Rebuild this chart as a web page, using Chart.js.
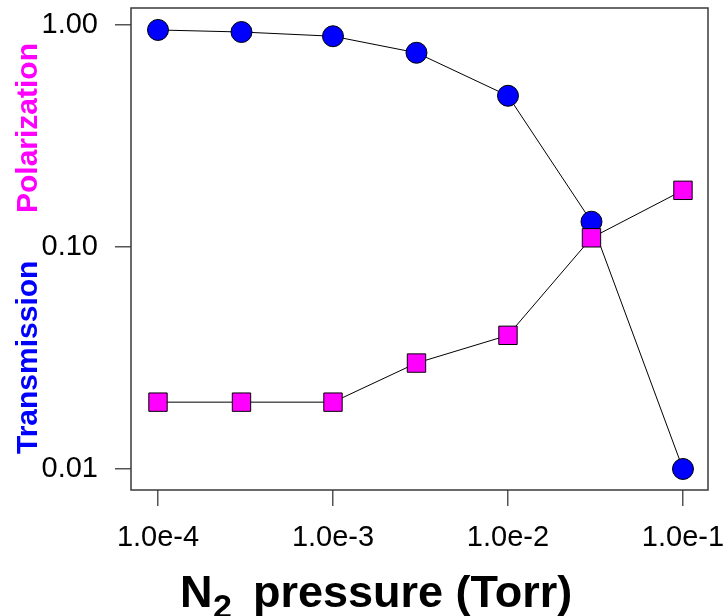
<!DOCTYPE html>
<html>
<head>
<meta charset="utf-8">
<script src="https://cdn.jsdelivr.net/npm/chart.js@4"></script>
<style>
  body { margin: 0; background: #fff; }
  #chart { display: block; }
</style>
</head>
<body>
<canvas id="chart" width="727" height="616"></canvas>
<script>
const pressure = [1e-4, 3e-4, 1e-3, 3e-3, 1e-2, 3e-2, 1e-1];
const transmission = [0.95, 0.93, 0.89, 0.75, 0.48, 0.13, 0.01];
const polarization = [0.02, 0.02, 0.02, 0.03, 0.04, 0.11, 0.18];

const xTickValues = [1e-4, 1e-3, 1e-2, 1e-1];
const xTickLabels = ["1.0e-4", "1.0e-3", "1.0e-2", "1.0e-1"];
const yTickValues = [0.01, 0.1, 1];
const yTickLabels = ["0.01", "0.10", "1.00"];

const FONT = "'Liberation Sans', Arial, Helvetica, sans-serif";
const noPadding = () => ({ left: 0, top: 0, right: 0, bottom: 0 });

function toPoints(ys) {
  return pressure.map((p, i) => ({ x: p, y: ys[i] }));
}

function tickLabel(values, labels) {
  return (v) => {
    const i = values.findIndex((t) => Math.abs(t - v) / t < 1e-6);
    return i >= 0 ? labels[i] : "";
  };
}

// frame round the plot plus the two axis titles
const framePlugin = {
  id: "frame",
  beforeDatasetsDraw(chart) {
    const a = chart.chartArea;
    const ctx = chart.ctx;
    ctx.save();
    ctx.strokeStyle = "#3a3a3a";
    ctx.lineWidth = 1.5;
    ctx.strokeRect(a.left, a.top, a.right - a.left, a.bottom - a.top);
    ctx.restore();
  },
  afterDraw(chart) {
    const ctx = chart.ctx;
    ctx.save();
    ctx.fillStyle = "#000";
    ctx.textBaseline = "alphabetic";
    ctx.textAlign = "left";

    // x title with subscript
    ctx.font = "bold 45px " + FONT;
    ctx.fillText("N", 180, 607);
    ctx.font = "bold 34px " + FONT;
    ctx.fillText("2", 213, 618);
    ctx.font = "bold 45px " + FONT;
    ctx.fillText("pressure (Torr)", 253, 607);

    // y title, two colours
    ctx.font = "bold 30px " + FONT;
    ctx.save();
    ctx.translate(37, 454);
    ctx.rotate(-Math.PI / 2);
    ctx.fillStyle = "#0000ff";
    ctx.fillText("Transmission", 0, 0);
    ctx.restore();
    ctx.save();
    ctx.translate(37, 213);
    ctx.rotate(-Math.PI / 2);
    ctx.fillStyle = "#ff00ff";
    ctx.fillText("Polarization", 0, 0);
    ctx.restore();

    ctx.restore();
  }
};

new Chart(document.getElementById("chart"), {
  type: "scatter",
  data: {
    datasets: [
      {
        label: "Transmission",
        data: toPoints(transmission),
        showLine: true,
        borderColor: "#000",
        borderWidth: 1,
        pointStyle: "circle",
        pointRadius: 10.5,
        pointBackgroundColor: "#0000ff",
        pointBorderColor: "#000",
        pointBorderWidth: 1,
        order: 2
      },
      {
        label: "Polarization",
        data: toPoints(polarization),
        showLine: true,
        borderColor: "#000",
        borderWidth: 1,
        pointStyle: "rect",
        pointRadius: 13,
        pointBackgroundColor: "#ff00ff",
        pointBorderColor: "#000",
        pointBorderWidth: 1,
        order: 1
      }
    ]
  },
  options: {
    responsive: false,
    animation: false,
    devicePixelRatio: 1,
    layout: { autoPadding: false, padding: { top: 8, right: 19, left: 0, bottom: 0 } },
    plugins: {
      legend: { display: false },
      tooltip: { enabled: false }
    },
    scales: {
      x: {
        type: "logarithmic",
        bounds: "data",
        min: 7.01e-5,
        max: 0.139,
        border: { display: false },
        grid: { drawOnChartArea: false, drawTicks: true, tickLength: 16, color: "#555", lineWidth: 1.5 },
        ticks: {
          padding: 15,
          color: "#000",
          font: { family: FONT, size: 29 },
          maxRotation: 0,
          autoSkip: false,
          callback: tickLabel(xTickValues, xTickLabels)
        },
        afterBuildTicks: (scale) => {
          scale.ticks = xTickValues.map((v) => ({ value: v }));
        },
        afterFit: (scale) => {
          scale.height = 126;
          scale.paddingLeft = 0;
          scale.paddingRight = 0;
          scale.getPadding = noPadding;
        }
      },
      y: {
        type: "logarithmic",
        bounds: "data",
        min: 0.00804,
        max: 1.193,
        border: { display: false },
        grid: { drawOnChartArea: false, drawTicks: true, tickLength: 16, color: "#555", lineWidth: 1.5 },
        ticks: {
          padding: 17,
          color: "#000",
          font: { family: FONT, size: 29 },
          autoSkip: false,
          callback: tickLabel(yTickValues, yTickLabels)
        },
        afterBuildTicks: (scale) => {
          scale.ticks = yTickValues.map((v) => ({ value: v }));
        },
        afterFit: (scale) => {
          scale.width = 131;
          scale.paddingTop = 0;
          scale.paddingBottom = 0;
          scale.getPadding = noPadding;
        }
      }
    }
  },
  plugins: [framePlugin]
});
</script>
</body>
</html>
